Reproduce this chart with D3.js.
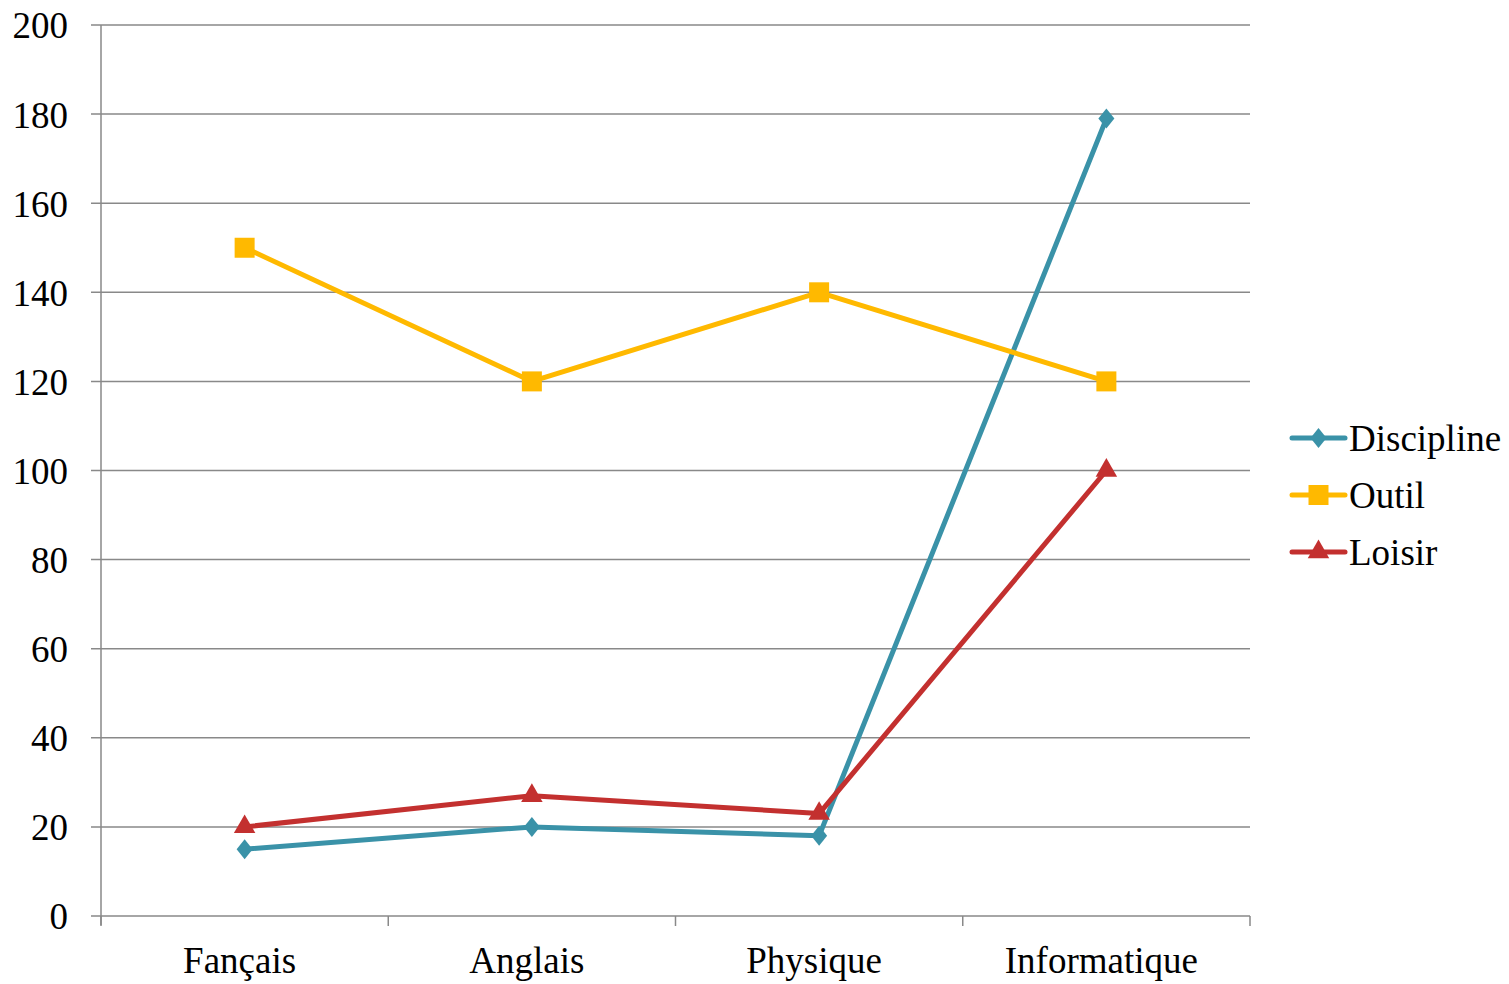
<!DOCTYPE html>
<html>
<head>
<meta charset="utf-8">
<script src="https://cdn.jsdelivr.net/npm/d3@7"></script>
<style>
  body { margin: 0; background: #fff; }
  text { font-family: "Liberation Serif", "Times New Roman", serif; fill: #000; }
</style>
</head>
<body>
<svg id="chart"></svg>
<script>
let categories = ['Fançais', 'Anglais', 'Physique', 'Informatique'];
let discipline = [15, 20, 18, 179];
let outil = [150, 120, 140, 120];
let loisir = [20, 27, 23, 100];
let yTicks = [0, 20, 40, 60, 80, 100, 120, 140, 160, 180, 200];

// excel-style diamond, a bit taller than wide
let tallDiamond = {
  draw: function(context, size) {
    let r = Math.sqrt(size) / 2;
    context.moveTo(0, -r * 1.25);
    context.lineTo(r, 0);
    context.lineTo(0, r * 1.25);
    context.lineTo(-r, 0);
    context.closePath();
  }
};

let series = [
  { name: 'Discipline', values: discipline, color: '#3a92a8', symbol: tallDiamond, size: 256 },
  { name: 'Outil', values: outil, color: '#ffb900', symbol: d3.symbolSquare, size: 400 },
  { name: 'Loisir', values: loisir, color: '#c3302f', symbol: d3.symbolTriangle, size: 200 }
];

let w = 1509, h = 984;
let plotLeft = 101, plotRight = 1250, plotTop = 25, plotBottom = 916;
let fontSize = '37px';

let chart = d3.select('#chart').attr('width', w).attr('height', h);

let xScale = d3.scaleBand()
  .domain(categories)
  .range([plotLeft, plotRight]);

let yScale = d3.scaleLinear()
  .domain([0, 200])
  .range([plotBottom, plotTop]);

// gridlines
chart.append('g')
  .selectAll('line')
  .data(yTicks)
  .enter()
  .append('line')
  .attr('x1', plotLeft - 10)
  .attr('x2', plotRight)
  .attr('y1', (d) => yScale(d))
  .attr('y2', (d) => yScale(d))
  .attr('stroke', '#898989')
  .attr('stroke-width', 1.5);

// y axis
let yAxis = chart.append('g')
  .attr('transform', `translate(${plotLeft},0)`)
  .call(d3.axisLeft(yScale).tickValues(yTicks).tickSize(10).tickPadding(23));
yAxis.select('.domain').attr('stroke', '#898989').attr('stroke-width', 1.5).attr('d', `M0,${plotTop}V${plotBottom + 9}`);
yAxis.selectAll('.tick line').remove();
yAxis.selectAll('text').style('font-size', fontSize).attr('dy', '0.35em');

// x axis
let xAxis = chart.append('g')
  .attr('transform', `translate(0,${plotBottom})`)
  .call(d3.axisBottom(xScale).tickSize(0));
xAxis.select('.domain').remove();
xAxis.selectAll('text')
  .style('font-size', fontSize)
  .attr('y', 57)
  .attr('dy', 0)
  .attr('dx', -5);

let tickX = categories.map((c) => xScale(c)).concat([plotRight]);
chart.append('g')
  .selectAll('line')
  .data(tickX)
  .enter()
  .append('line')
  .attr('x1', (d) => d)
  .attr('x2', (d) => d)
  .attr('y1', plotBottom)
  .attr('y2', plotBottom + 10)
  .attr('stroke', '#898989')
  .attr('stroke-width', 1.5);

let cx = (i) => xScale(categories[i]) + xScale.bandwidth() / 2;

let line = d3.line()
  .x((d, i) => cx(i))
  .y((d) => yScale(d));

series.forEach((s) => {
  chart.append('path')
    .datum(s.values)
    .attr('d', line)
    .attr('fill', 'none')
    .attr('stroke', s.color)
    .attr('stroke-width', 5)
    .attr('stroke-linejoin', 'round');

  chart.append('g')
    .selectAll('path')
    .data(s.values)
    .enter()
    .append('path')
    .attr('d', d3.symbol().type(s.symbol).size(s.size))
    .attr('transform', (d, i) => `translate(${cx(i)},${yScale(d)})`)
    .attr('fill', s.color);
});

// legend
let legend = chart.append('g').attr('transform', 'translate(1292,438)');
series.forEach((s, i) => {
  let g = legend.append('g').attr('transform', `translate(0,${i * 57})`);
  g.append('line')
    .attr('x1', 0).attr('x2', 53)
    .attr('stroke', s.color)
    .attr('stroke-width', 5)
    .attr('stroke-linecap', 'round');
  g.append('path')
    .attr('d', d3.symbol().type(s.symbol).size(s.size))
    .attr('transform', 'translate(26.5,0)')
    .attr('fill', s.color);
  g.append('text')
    .attr('x', 57)
    .attr('dy', '0.35em')
    .style('font-size', fontSize)
    .text(s.name);
});
</script>
</body>
</html>
